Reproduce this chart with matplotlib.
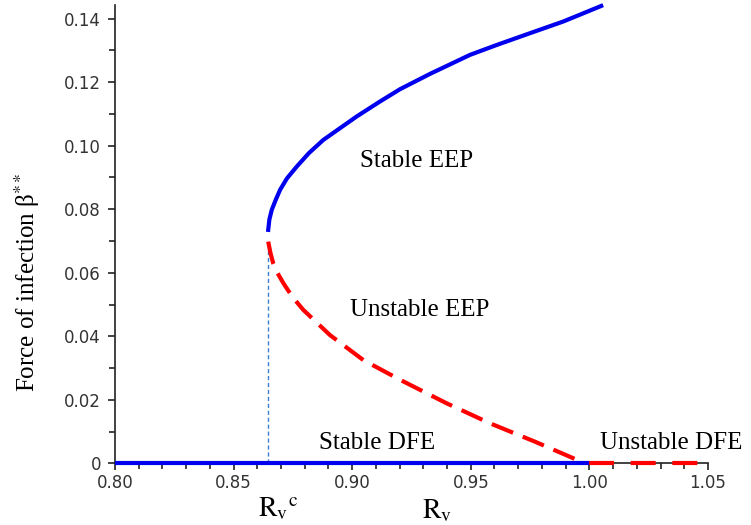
import matplotlib
matplotlib.use('Agg')
from matplotlib import pyplot as plt
from matplotlib.ticker import MultipleLocator, FixedLocator

plt.rcParams['mathtext.fontset'] = 'stix'

# stable endemic branch (upper, solid blue)
stable_eep_x = [0.8646, 0.8651, 0.8661, 0.8678, 0.8696, 0.8725, 0.8766,
                0.8818, 0.8878, 0.9019, 0.9117, 0.9202, 0.9328, 0.9497,
                0.9609, 0.9749, 0.9890, 1.0050]
stable_eep_y = [0.0735, 0.0768, 0.0798, 0.0830, 0.0861, 0.0897, 0.0934,
                0.0977, 0.1018, 0.1092, 0.1139, 0.1178, 0.1226, 0.1286,
                0.1317, 0.1354, 0.1391, 0.1440]

# unstable endemic branch (lower, dashed red)
unstable_eep_x = [0.8646, 0.8655, 0.8667, 0.8686, 0.8710, 0.8748, 0.8794,
                  0.8906, 0.9047, 0.9202, 0.9398, 0.9581, 0.9771, 0.9960]
unstable_eep_y = [0.0698, 0.0664, 0.0630, 0.0598, 0.0567, 0.0524, 0.0483,
                  0.0404, 0.0325, 0.0263, 0.0189, 0.0126, 0.0068, 0.0007]

# disease free equilibrium
stable_dfe_x = [0.80, 1.00]
unstable_dfe_x = [1.00, 1.05]
dfe_y = [0.0, 0.0]

rv_crit = 0.8646
turn_y = 0.0698

x_ticks = [0.80, 0.85, 0.90, 0.95, 1.00, 1.05]
x_tick_labels = ['0.80', '0.85', '0.90', '0.95', '1.00', '1.05']
y_ticks = [0, 0.02, 0.04, 0.06, 0.08, 0.10, 0.12, 0.14]
y_tick_labels = ['0', '0.02', '0.04', '0.06', '0.08', '0.10', '0.12', '0.14']

fig = plt.figure(figsize=(7.51, 5.25), dpi=100)
ax = fig.add_axes([0.1531, 0.1175, 0.7896, 0.873])

ax.plot(stable_dfe_x, dfe_y, color='#0000ee', lw=3, solid_capstyle='butt',
        zorder=4, clip_on=False)
ax.plot(unstable_dfe_x, dfe_y, color='#ff0000', lw=3, linestyle=(0, (6, 4)),
        zorder=4, clip_on=False)
ax.plot(stable_eep_x, stable_eep_y, color='#0000ee', lw=3, zorder=4, clip_on=False)
ax.plot(unstable_eep_x, unstable_eep_y, color='#ff0000', lw=3,
        linestyle=(0, (5.5, 2.5)), zorder=4)
ax.plot([rv_crit, rv_crit], [0, turn_y], color='#3a7fd0', lw=1,
        linestyle=(0, (3, 2)), zorder=3)

ax.set_xlim(0.80, 1.05)
ax.set_ylim(0, 0.1443)

ax.spines['top'].set_visible(False)
ax.spines['right'].set_visible(False)
for s in ('left', 'bottom'):
    ax.spines[s].set_linewidth(1.2)
    ax.spines[s].set_color('#222222')

ax.xaxis.set_major_locator(FixedLocator(x_ticks))
ax.set_xticklabels(x_tick_labels)
ax.yaxis.set_major_locator(FixedLocator(y_ticks))
ax.set_yticklabels(y_tick_labels)
ax.xaxis.set_minor_locator(MultipleLocator(0.01))
ax.yaxis.set_minor_locator(MultipleLocator(0.01))
ax.tick_params(which='major', length=5, width=1.2, color='#222222',
               labelsize=12, labelcolor='#333333', pad=5)
ax.tick_params(axis='x', which='major', pad=3)
ax.tick_params(which='minor', length=4, width=1.2, color='#222222')

serif = 'Liberation Serif'
ax.text(0.9272, 0.0952, 'Stable EEP', fontsize=18, family=serif, ha='center', va='center')
ax.text(0.9286, 0.0483, 'Unstable EEP', fontsize=18, family=serif, ha='center', va='center')
ax.text(0.9103, 0.0065, 'Stable DFE', fontsize=18, family=serif, ha='center', va='center')
ax.text(1.0347, 0.0065, 'Unstable DFE', fontsize=18, family=serif, ha='center', va='center')

fig.text(27 / 751, 1 - 282 / 525, 'Force of infection β$^{**}$', rotation=90,
         fontsize=18, family=serif, ha='center', va='center')
fig.text(278 / 751, 1 - 508 / 525, r'$\mathrm{R_v}^{\mathrm{c}}$', fontsize=20,
         ha='center', va='center')
fig.text(437 / 751, 1 - 510 / 525, r'$\mathrm{R_v}$', fontsize=20,
         ha='center', va='center')

fig.savefig('out.png', dpi=100)
